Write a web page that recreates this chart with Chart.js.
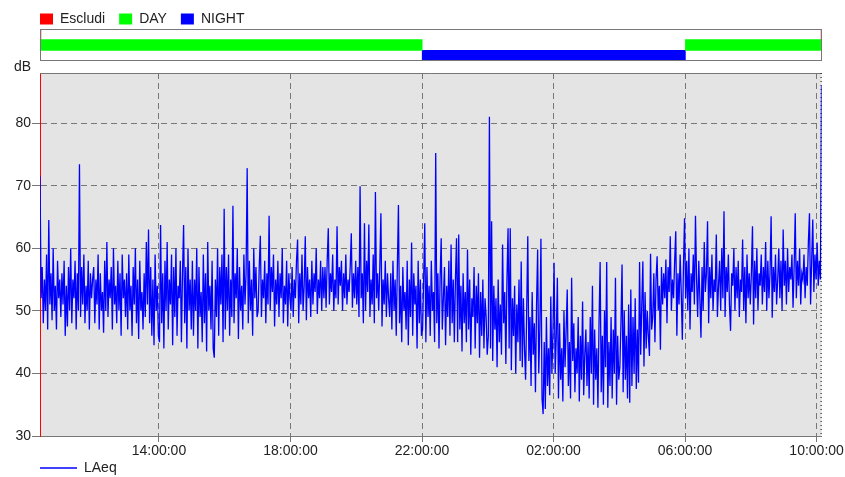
<!DOCTYPE html>
<html>
<head>
<meta charset="utf-8">
<script src="https://cdn.jsdelivr.net/npm/chart.js@4.4.1/dist/chart.umd.min.js"></script>
<style>
  body { margin: 0; background: #fff; }
  #wrap { position: relative; width: 845px; height: 477px; overflow: hidden; }
  #main { position: absolute; left: 0; top: 0; }
  #band { position: absolute; left: 0; top: -2px; }
  #unit { position: absolute; left: 14px; top: 58px; font: 14px "Liberation Sans", Arial, sans-serif; color: #222; }
</style>
</head>
<body>
<div id="wrap">
  <canvas id="main" width="845" height="477"></canvas>
  <canvas id="band" width="845" height="64"></canvas>
  <div id="unit">dB</div>
</div>
<script>
// time axis in hours from midnight of the first day (26 = 02:00 next day)
const startHour = 10 + 23 / 60;   // first sample 10:23
const stepHours = 2 / 60;         // one sample every 2 min
const xMin = 10.383;
const xMax = 34.152;

const xTicks = [14, 18, 22, 26, 30, 34];
const xTickLabels = ['14:00:00', '18:00:00', '22:00:00', '02:00:00', '06:00:00', '10:00:00'];
const yTicks = [30, 40, 50, 60, 70, 80];

// LAeq dB (one row per hour, odd minutes)
const laeq = [
  71.5, 52, 57, 48, 55, 50, 59, 47, 64.5, 51, 56, 48.5, 60, 50, 54, 47, 58, 52, 55,       // 10:23
  49, 56, 51, 58, 46, 54, 47.5, 57, 50, 60, 48, 55, 52, 58, 47, 56, 50, 73.4, 49, 57,
  51, 59, 48, 54, 50, 58, 47, 56, 52, 55,                                                 // 11
  57, 48, 55, 51, 59, 47, 56, 50, 53, 46.5, 58, 50, 61, 49, 55, 52, 57, 47, 60, 51,
  54, 48, 58, 50, 56, 46, 59, 52, 55, 49,                                                 // 12
  56, 47, 59, 50, 54, 46, 57, 51, 60, 48, 55, 45.5, 58, 50, 53, 47, 56, 49, 61, 51,
  63, 48, 57, 46, 55, 44.5, 59, 50, 54, 46,                                               // 13
  45, 63.7, 48, 56, 44, 58, 50, 61, 47, 55, 51, 59, 44.5, 57, 49, 60, 46, 54, 52, 58,
  45, 56, 63.7, 48, 57, 44, 60, 50, 55, 47,                                               // 14
  58, 46, 55, 50, 60, 44, 57, 49, 53, 45, 59, 48, 56, 43.5, 61, 50, 54, 47, 58, 44,
  42.5, 55, 49, 60, 46, 57, 51, 59, 45, 66.3,                                             // 15
  47, 57, 50, 59, 46, 55, 49, 66.8, 48, 56, 52, 60, 45.5, 57, 50, 54, 47, 59, 51, 56,
  72.8, 48, 58, 50, 55, 46, 60, 52, 57, 49,                                               // 16
  50, 57, 62, 49, 55, 52, 58, 48, 56, 51, 65.2, 50, 57, 53, 59, 47.5, 55, 51, 58, 49,
  56, 52, 60, 48, 54, 51, 58, 47.5, 56, 52,                                               // 17
  50, 57, 49, 55, 52, 58, 61.4, 48, 56, 51, 59, 50, 54, 61.9, 48.5, 57, 52, 55, 49, 58,
  51, 56, 53, 60, 49.5, 55, 52, 58, 50, 57,                                               // 18
  52, 57, 50.5, 58, 63.2, 51, 56, 53, 59, 50, 55, 52, 63.5, 51, 57, 54, 58, 50, 56, 52,
  59, 51, 55, 53, 57, 62.4, 50.5, 56, 52, 58,                                             // 19
  51, 57, 49, 69.9, 52, 56, 48, 64, 50, 58, 53, 63.8, 49, 55, 51, 59, 48, 69, 52, 56,
  50, 57, 65.6, 47.5, 55, 51, 58, 49, 56, 52,                                             // 20
  49, 56, 47, 58, 50, 55, 46, 57, 66.9, 48, 54, 45, 57, 50, 53, 47, 58, 44.5, 55, 49,
  60.9, 46, 56, 51, 54, 44, 58, 48, 55, 46,                                               // 21
  47, 55, 64, 45, 57, 49, 54, 46, 58, 50, 53, 45, 75.2, 48, 56, 44, 55, 61.6, 47, 52,
  57, 44.5, 54, 49, 58, 46, 60.6, 48, 55, 45,                                             // 22
  55, 61.6, 45, 62.2, 47, 54, 43.5, 56, 48, 53, 45, 59.8, 47, 55, 43, 52, 49, 57, 44, 54,
  48, 56, 42.5, 53, 46, 55, 44, 52, 49, 43,                                               // 23
  46, 81, 44, 64.3, 42, 54, 47, 52, 41, 55, 45, 51, 43, 60.6, 48, 53, 41.5, 55, 63.2, 44,
  63.2, 40.5, 52, 46, 54, 40, 51, 45, 55, 42,                                             // 00
  57.9, 41, 52, 44, 39, 50, 61.9, 42, 49, 38, 53, 43, 48, 37, 51, 59.8, 40, 47, 61.5, 36,
  33.5, 45, 34.3, 49, 38, 44, 36.5, 52.3, 40, 47,                                         // 01
  57.7, 40, 46, 55.3, 36, 48, 39, 44, 35.5, 50, 41, 47, 53.4, 38, 45, 36, 55.3, 42, 48, 37,
  44, 40, 49, 35.5, 46, 39, 51.5, 36.5, 43, 47,                                           // 02
  38, 45, 36, 49, 40, 54, 35, 47, 39, 44, 34.5, 48, 57.8, 37, 46, 35, 50, 41, 57.8, 34.5,
  45, 38, 49, 36, 47, 40, 55.3, 35, 46, 39,                                               // 03
  41, 48, 57.4, 37, 50, 39, 46, 36, 51, 35.3, 53.4, 38, 49, 40, 52, 37.5, 47, 38.5, 57.8, 43,
  51, 57.9, 41.1, 53, 44, 50, 46, 42.8, 59.1, 47,                                         // 04
  49, 56, 45, 55, 58.7, 50, 54, 43.8, 57, 51, 56, 52, 58.2, 48, 57, 53, 61.9, 50, 55, 52,
  58, 62.7, 46, 56, 51, 59, 53, 45.4, 57, 64.8,                                           // 05
  52, 58, 50, 60, 47, 56, 53, 59, 51, 65.2, 55, 49, 58, 52, 45.7, 57, 50, 61, 53, 56,
  64.3, 48, 57, 52, 59, 50, 55, 53, 62.2, 49,                                             // 06
  54, 58, 50, 60, 52, 65.9, 49, 57, 53, 59, 51, 46.8, 56, 54, 60, 50, 57, 52, 58, 49,
  55, 53, 61.4, 50, 57, 48, 59, 52, 56, 51,                                               // 07
  56, 63.5, 47.8, 58, 52, 60, 50, 56, 54, 59, 51, 57, 53, 61, 50, 58, 52, 56, 65.1, 48.9,
  57, 53, 59, 51, 55, 60, 52, 58, 50, 63,                                                 // 08
  54, 58, 51, 60, 53, 57, 55, 59, 50.5, 57, 65.6, 52, 58, 54, 60, 51, 56, 55, 59, 52,
  57, 54, 61, 65.6, 51, 58, 64.6, 53, 59, 55,                                             // 09
  60.9, 54, 58, 55, 86                                                                    // 10
];

// period band above the plot: [from, to] in hours
const bandRows = ['Escludi', 'DAY', 'NIGHT'];
const escludiSpans = [[10.383, 10.41], [34.125, 34.152]];
const daySpans = [[10.383, 22], [30, 34.152]];
const nightSpans = [[22, 30]];

Chart.defaults.font.family = '"Liberation Sans", Arial, sans-serif';
Chart.defaults.font.size = 14;
Chart.defaults.color = '#222';

const plotFrame = {
  id: 'plotFrame',
  beforeDraw(chart) {
    const { ctx, chartArea: a } = chart;
    ctx.save();
    ctx.fillStyle = '#e4e4e4';
    ctx.fillRect(a.left, a.top, a.right - a.left, a.bottom - a.top);
    ctx.restore();
  },
  afterDraw(chart) {
    const { ctx, chartArea: a } = chart;
    ctx.save();
    ctx.lineWidth = 1;
    ctx.strokeStyle = '#777';
    ctx.beginPath();
    ctx.moveTo(a.left, a.top + 0.5);
    ctx.lineTo(a.right, a.top + 0.5);
    ctx.stroke();
    ctx.strokeStyle = '#000';
    ctx.setLineDash([1, 3]);
    ctx.beginPath();
    ctx.moveTo(a.right - 0.5, a.top);
    ctx.lineTo(a.right - 0.5, a.bottom);
    ctx.stroke();
    ctx.restore();
  }
};

const bandFrame = {
  id: 'bandFrame',
  afterDraw(chart) {
    const { ctx, chartArea: a } = chart;
    ctx.save();
    ctx.strokeStyle = '#777';
    ctx.lineWidth = 1;
    ctx.strokeRect(Math.round(a.left) + 0.5, Math.round(a.top) + 0.5,
      Math.round(a.right - a.left) - 1, Math.round(a.bottom - a.top) - 1);
    ctx.restore();
  }
};

new Chart(document.getElementById('main'), {
  type: 'line',
  data: {
    datasets: [{
      label: 'LAeq',
      data: laeq.map((v, i) => ({ x: startHour + i * stepHours, y: v })),
      borderColor: '#0000ff',
      borderWidth: 1.3,
      pointRadius: 0,
      tension: 0,
      fill: false
    }]
  },
  options: {
    responsive: false,
    animation: false,
    devicePixelRatio: 1,
    events: [],
    layout: { padding: { left: 0, right: 23, top: 73, bottom: 0 } },
    scales: {
      x: {
        type: 'linear', min: xMin, max: xMax,
        afterBuildTicks: s => { s.ticks = xTicks.map(v => ({ value: v })); },
        afterFit: s => { s.height = 25; },
        ticks: { callback: (v, i) => xTickLabels[i], maxRotation: 0, autoSkip: false, padding: 1 },
        grid: { color: '#777', tickLength: 6 },
        border: { color: '#777', dash: [6, 4] }
      },
      y: {
        min: 30, max: 88,
        afterBuildTicks: s => { s.ticks = yTicks.map(v => ({ value: v })); },
        afterFit: s => { s.width = 40; },
        ticks: { padding: 1 },
        grid: { color: '#777', tickLength: 8 },
        border: { color: '#ff0000', dash: [6, 4] }
      }
    },
    plugins: {
      legend: {
        position: 'bottom', align: 'start', fullSize: false, maxHeight: 16,
        labels: { usePointStyle: true, pointStyle: 'line', pointStyleWidth: 37, padding: 0 }
      },
      tooltip: { enabled: false }
    }
  },
  plugins: [plotFrame]
});

new Chart(document.getElementById('band'), {
  type: 'bar',
  data: {
    labels: bandRows,
    datasets: [
      { label: 'Escludi', data: escludiSpans.map(s => ({ x: s, y: 'Escludi' })), backgroundColor: '#ff0000' },
      { label: 'DAY', data: daySpans.map(s => ({ x: s, y: 'DAY' })), backgroundColor: '#00ff00' },
      { label: 'NIGHT', data: nightSpans.map(s => ({ x: s, y: 'NIGHT' })), backgroundColor: '#0000ff' }
    ]
  },
  options: {
    indexAxis: 'y',
    responsive: false,
    animation: false,
    devicePixelRatio: 1,
    events: [],
    datasets: { bar: { grouped: false, barPercentage: 1, categoryPercentage: 1, borderWidth: 0 } },
    layout: { padding: { left: 26, right: 23, top: 0, bottom: 1 } },
    scales: {
      x: { type: 'linear', min: xMin, max: xMax, display: false },
      y: {
        type: 'category',
        afterFit: s => { s.width = 14; },
        ticks: { display: false },
        grid: { display: false },
        border: { display: false }
      }
    },
    plugins: {
      legend: {
        position: 'top', align: 'start', maxHeight: 31,
        labels: { boxWidth: 13, boxHeight: 11, padding: 14 }
      },
      tooltip: { enabled: false }
    }
  },
  plugins: [bandFrame]
});
</script>
</body>
</html>
